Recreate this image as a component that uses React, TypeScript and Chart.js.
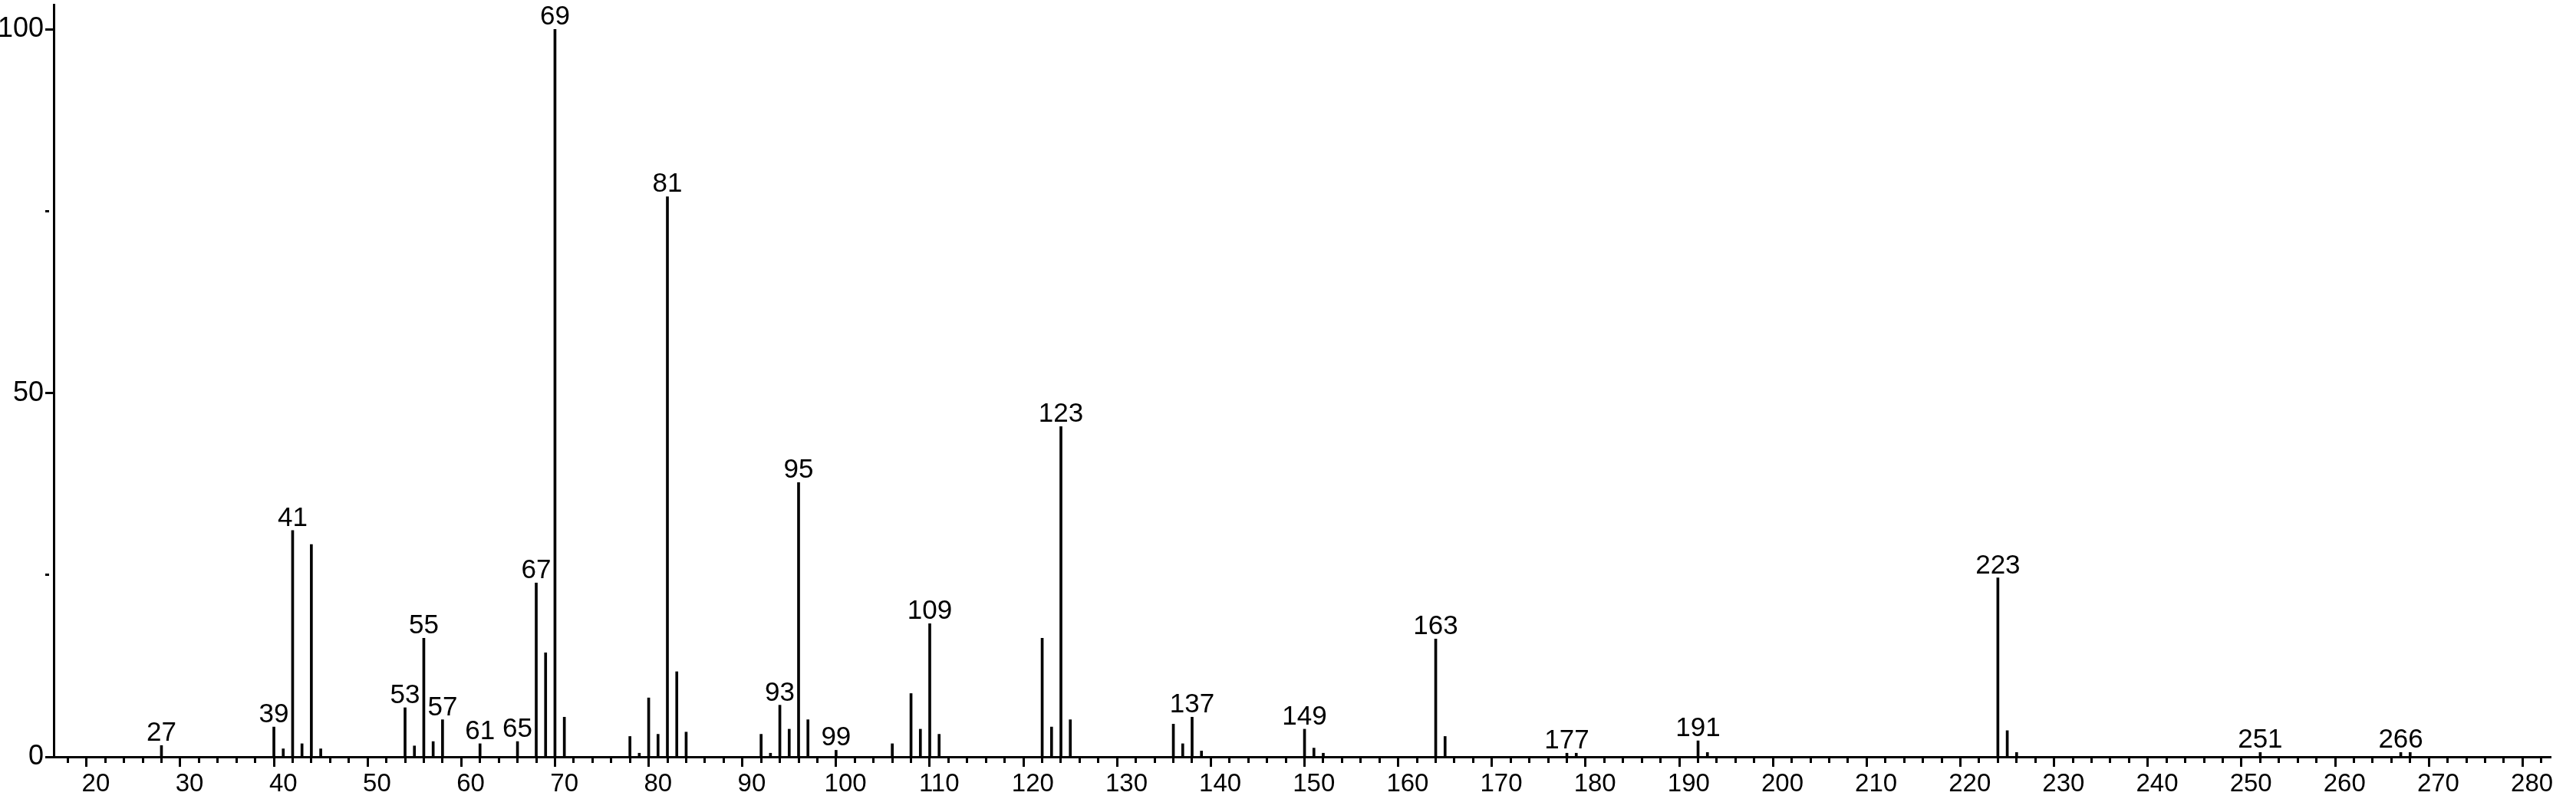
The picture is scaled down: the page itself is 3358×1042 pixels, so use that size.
import React, { useEffect, useRef } from "react";
import { Chart, registerables } from "chart.js";

Chart.register(...registerables);

// m/z values of the peaks
const masses = [
  27, 39, 40, 41, 42, 43, 44, 53, 54, 55, 56, 57, 61, 65, 67, 68, 69, 70,
  77, 78, 79, 80, 81, 82, 83, 91, 92, 93, 94, 95, 96, 99, 105, 107, 108, 109,
  110, 121, 122, 123, 124, 135, 136, 137, 138, 149, 150, 151, 163, 164, 177,
  178, 191, 192, 223, 224, 225, 251, 266, 267,
];

// relative intensities (%)
const intensities = [
  1.55, 4.1, 1.1, 31.1, 1.8, 29.2, 1.1, 6.75, 1.5, 16.3, 2.1, 5.1, 1.8, 2.1,
  23.9, 14.3, 100, 5.45, 2.8, 0.5, 8.1, 3.1, 77, 11.7, 3.4, 3.1, 0.5, 7.1,
  3.8, 37.7, 5.1, 0.9, 1.8, 8.7, 3.8, 18.3, 3.1, 16.3, 4.1, 45.4, 5.1, 4.5,
  1.8, 5.45, 0.8, 3.8, 1.2, 0.5, 16.2, 2.8, 0.5, 0.5, 2.2, 0.6, 24.6, 3.6,
  0.6, 0.6, 0.6, 0.6,
];

// peaks annotated with their m/z
const labelledMasses = [
  27, 39, 41, 53, 55, 57, 61, 65, 67, 69, 81, 93, 95, 99, 109, 123, 137, 149,
  163, 177, 191, 223, 251, 266,
];

// axis ticks
const xTickLabels = [
  "20", "30", "40", "50", "60", "70", "80", "90", "100", "110", "120", "130",
  "140", "150", "160", "170", "180", "190", "200", "210", "220", "230", "240",
  "250", "260", "270", "280",
];
const yTickValues = [0, 25, 50, 75, 100];
const yTickLabels = ["0", "50", "100"];

const X_MIN = 15.5;
const X_MAX = 282;
const X_MINOR_STEP = 2;
const Y_MIN = 0;
const Y_MAX = 103.4;

const FONT = '"Liberation Sans", Arial, Helvetica, sans-serif';

const xMajorSet = new Set(xTickLabels.map((s) => Number(s)));
const yMajorSet = new Set(yTickLabels.map((s) => Number(s)));

const peakLabelPlugin = {
  id: "peakLabels",
  afterDatasetsDraw(chart: any) {
    const meta = chart.getDatasetMeta(0);
    const ctx = chart.ctx;
    ctx.save();
    ctx.font = `35px ${FONT}`;
    ctx.fillStyle = "#000";
    ctx.textAlign = "center";
    ctx.textBaseline = "alphabetic";
    labelledMasses.forEach((m) => {
      const i = masses.indexOf(m);
      const el = meta.data[i];
      if (el) ctx.fillText(String(m), el.x, el.y - 6);
    });
    ctx.restore();
  },
};

export default function App() {
  const canvasRef = useRef<HTMLCanvasElement | null>(null);

  useEffect(() => {
    if (!canvasRef.current) return;
    Chart.defaults.font.family = FONT;
    Chart.defaults.color = "#000";

    const xTicks: number[] = [];
    for (let v = Math.ceil(X_MIN / X_MINOR_STEP) * X_MINOR_STEP; v <= X_MAX; v += X_MINOR_STEP) {
      xTicks.push(v);
    }

    const chart = new Chart(canvasRef.current, {
      type: "bar",
      data: {
        datasets: [
          {
            data: masses.map((m, i) => ({ x: m, y: intensities[i] })),
            backgroundColor: "#000",
            borderWidth: 0,
            barThickness: 3,
          } as any,
        ],
      },
      options: {
        responsive: false,
        animation: false,
        devicePixelRatio: 1,
        layout: { padding: { top: 6, right: 33, left: 0, bottom: 0 } },
        plugins: { legend: { display: false }, tooltip: { enabled: false } },
        scales: {
          x: {
            type: "linear",
            min: X_MIN,
            max: X_MAX,
            offset: false,
            afterBuildTicks: (scale: any) => {
              scale.ticks = xTicks.map((v) => ({ value: v }));
            },
            afterFit: (scale: any) => {
              scale.height = 55;
              scale.paddingLeft = 0;
              scale.paddingRight = 0;
              scale.paddingTop = 0;
              scale.paddingBottom = 0;
            },
            ticks: {
              autoSkip: false,
              maxRotation: 0,
              minRotation: 0,
              padding: 3,
              color: "#000",
              font: { size: 33, family: FONT },
              callback: (value: any) => (xMajorSet.has(Number(value)) ? String(value) : ""),
            },
            grid: {
              display: true,
              drawOnChartArea: false,
              drawTicks: true,
              tickLength: 13,
              tickWidth: 3,
              tickColor: "#000",
              tickBorderDash: (ctx: any) =>
                ctx.tick && xMajorSet.has(ctx.tick.value) ? [] : [6, 100],
            } as any,
            border: { display: true, color: "#000", width: 3 },
          } as any,
          y: {
            type: "linear",
            min: Y_MIN,
            max: Y_MAX,
            afterBuildTicks: (scale: any) => {
              scale.ticks = yTickValues.map((v) => ({ value: v }));
            },
            afterFit: (scale: any) => {
              scale.width = 70;
              scale.paddingLeft = 0;
              scale.paddingRight = 0;
              scale.paddingTop = 0;
              scale.paddingBottom = 0;
            },
            ticks: {
              autoSkip: false,
              padding: 2,
              color: "#000",
              font: { size: 36, family: FONT },
              callback: (value: any) => (yMajorSet.has(Number(value)) ? String(value) : ""),
            },
            grid: {
              display: true,
              drawOnChartArea: false,
              drawTicks: true,
              tickLength: 11,
              tickWidth: 3,
              tickColor: "#000",
              tickBorderDash: (ctx: any) =>
                ctx.tick && yMajorSet.has(ctx.tick.value) ? [] : [5, 100],
            } as any,
            border: { display: true, color: "#000", width: 3 },
          } as any,
        },
      },
      plugins: [peakLabelPlugin],
    });

    return () => chart.destroy();
  }, []);

  return (
    <div
      style={{
        position: "fixed",
        left: 0,
        top: 0,
        width: 3358,
        height: 1042,
        background: "#fff",
      }}
    >
      <canvas ref={canvasRef} width={3358} height={1042} style={{ display: "block" }} />
    </div>
  );
}
